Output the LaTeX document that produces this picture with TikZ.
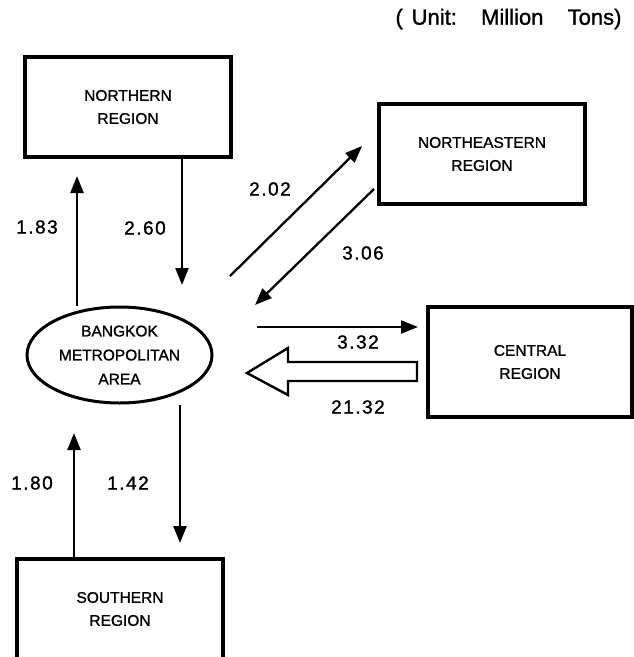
\documentclass[tikz,border=0pt]{standalone}
\usepackage{fontspec}
\setmainfont{Liberation Sans}
\newfontfamily\scanfont{Liberation Sans}[FakeBold=1.2]
\usetikzlibrary{arrows.meta,shapes.geometric}
\begin{document}
\begin{tikzpicture}[x=1pt,y=-1pt,
  region/.style={draw, line width=3.2pt, rectangle, inner sep=0pt,
    minimum width=206pt, minimum height=100pt, align=center,
    font=\scanfont\fontsize{15.5}{23}\selectfont},
  city/.style={draw, line width=3pt, ellipse, inner sep=0pt,
    minimum width=185pt, minimum height=96pt, align=center,
    font=\scanfont\fontsize{15.5}{24}\selectfont},
  flow/.style={line width=2.3pt, -{Triangle[length=17pt,width=13pt]}},
  amount/.style={font=\scanfont\fontsize{19}{20}\selectfont\addfontfeatures{LetterSpace=8}},
  bigflow/.style={draw, line width=2.4pt, fill=white, line join=miter}
]
\useasboundingbox (0,0) rectangle (634,657);

% regions
\node[region] (north) at (128,107) {NORTHERN\\REGION};
\node[region] (northeast) at (482,154) {NORTHEASTERN\\REGION};
\node[region, minimum width=204pt, minimum height=110pt] (central) at (530,362) {CENTRAL\\REGION};
\node[region] (south) at (120,609) {SOUTHERN\\REGION};
\node[city] (bma) at (119.5,355) {BANGKOK\\METROPOLITAN\\AREA};

% unit note
\node[font=\scanfont\fontsize{22}{23}\selectfont, anchor=east] (unit) at (625,19)
  {(\hspace{0.4em}Unit:\hspace{1.1em}Million\hspace{1.1em}Tons)};

% free ends of the floating arrows
\coordinate (nUpTip) at (77,176);
\coordinate (nDownTip) at (182,285);
\coordinate (neOutStart) at (230,276);
\coordinate (neOutTip) at (362,146);
\coordinate (neInStart) at (374,189);
\coordinate (neInTip) at (255,305);
\coordinate (cOutStart) at (257,327);
\coordinate (cOutTip) at (418,327);
\coordinate (sUpTip) at (74,433);
\coordinate (sDownTip) at (180,543);

% north
\draw[flow] (bma.north -| nUpTip) -- (nUpTip);
\draw[flow] (north.south -| nDownTip) -- (nDownTip);
% northeast
\draw[flow] (neOutStart) -- (neOutTip);
\draw[flow] (neInStart) -- (neInTip);
% central
\draw[flow] (cOutStart) -- (cOutTip);
\draw[bigflow] (417,362) -- (288,362) -- (288,348) -- (247,373)
  -- (288,395) -- (288,381) -- (417,381) -- cycle;
% south
\draw[flow] (south.north -| sUpTip) -- (sUpTip);
\draw[flow] (bma.south -| sDownTip) -- (sDownTip);

% amounts
\node[amount] (a183) at (37,227) {1.83};
\node[amount] (a260) at (145,228) {2.60};
\node[amount] (a202) at (270,189) {2.02};
\node[amount] (a306) at (363,253) {3.06};
\node[amount] (a332) at (358,342) {3.32};
\node[amount] (a2132) at (358,407) {21.32};
\node[amount] (a180) at (32,483) {1.80};
\node[amount] (a142) at (128,483) {1.42};
\end{tikzpicture}
\end{document}
